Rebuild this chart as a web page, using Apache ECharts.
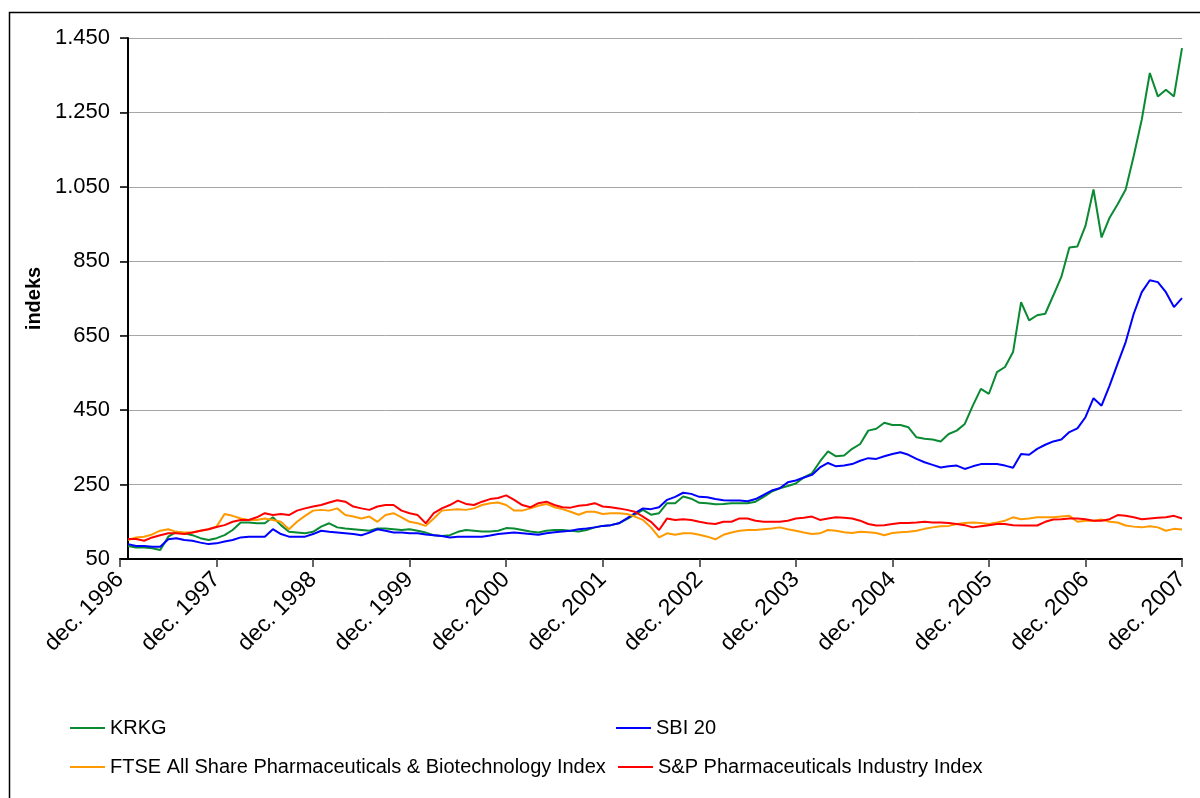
<!DOCTYPE html>
<html>
<head>
<meta charset="utf-8">
<script src="https://cdn.jsdelivr.net/npm/echarts@6/dist/echarts.min.js"></script>
<style>
  html, body { margin: 0; padding: 0; background: #fff; }
  #chart { width: 1200px; height: 798px; }
</style>
</head>
<body>
<div id="chart"></div>
<script>
// monthly points, jan 1997 .. dec 2007 (x = months after dec 1996)
var seriesNames = ['KRKG', 'SBI 20', 'FTSE All Share Pharmaceuticals & Biotechnology Index', 'S&P Pharmaceuticals Industry Index'];
var seriesColors = ['#0a8a32', '#0000ff', '#ff9900', '#ff0000'];

var krkg = [
    85, 81, 81, 79, 74, 110, 123, 119, 114, 106, 101, 106, 114, 128, 148, 148, 146, 146, 162, 141, 123, 121,
    119, 123, 137, 146, 135, 132, 130, 128, 126, 132, 132, 130, 128, 130, 126, 121, 114, 112, 114, 123, 128, 126,
    124, 124, 126, 133, 132, 128, 124, 121, 126, 128, 128, 126, 124, 128, 135, 139, 141, 146, 157, 169, 182, 169,
    173, 200, 200, 218, 212, 201, 200, 197, 198, 200, 200, 200, 204, 217, 231, 240, 246, 253, 269, 280, 312, 339,
    326, 328, 346, 359, 395, 400, 416, 410, 410, 404, 377, 373, 371, 366, 386, 395, 413, 462, 507, 494, 552, 566,
    606, 740, 691, 705, 709, 758, 808, 887, 890, 945, 1043, 914, 967, 1003, 1043, 1133, 1231, 1356, 1293, 1311, 1293, 1423
];
var sbi20 = [
    90, 85, 85, 83, 83, 103, 106, 101, 99, 94, 90, 92, 97, 101, 108, 110, 110, 110, 130, 117, 110, 110,
    110, 117, 126, 123, 121, 119, 117, 114, 121, 130, 126, 121, 121, 119, 119, 116, 114, 112, 108, 110, 110, 110,
    110, 113, 117, 119, 121, 119, 117, 115, 119, 122, 124, 126, 130, 132, 135, 139, 141, 146, 159, 173, 186, 184,
    189, 209, 217, 228, 225, 217, 216, 211, 208, 207, 207, 205, 211, 222, 234, 240, 256, 261, 269, 276, 296, 308,
    299, 301, 305, 314, 321, 319, 326, 332, 337, 330, 319, 310, 303, 296, 299, 301, 292, 299, 305, 305, 305, 301,
    295, 332, 330, 346, 357, 366, 371, 391, 401, 431, 482, 462, 516, 575, 633, 709, 767, 799, 794, 767, 727, 751
];
var ftse = [
    101, 108, 110, 116, 126, 130, 123, 121, 121, 126, 130, 137, 171, 166, 159, 155, 155, 159, 155, 150, 130, 150,
    166, 180, 182, 180, 186, 168, 164, 159, 164, 150, 168, 173, 162, 150, 146, 139, 159, 180, 182, 184, 182, 186,
    195, 200, 202, 195, 180, 180, 186, 193, 198, 189, 184, 177, 169, 177, 177, 171, 173, 173, 171, 164, 155, 135,
    108, 119, 115, 119, 119, 115, 110, 103, 115, 121, 126, 128, 128, 130, 132, 135, 130, 126, 121, 117, 119, 128,
    126, 122, 120, 123, 122, 120, 114, 120, 122, 123, 126, 131, 135, 138, 139, 144, 147, 148, 147, 144, 148, 153,
    162, 157, 159, 162, 162, 162, 164, 166, 150, 153, 153, 156, 150, 148, 140, 137, 135, 138, 135, 126, 131, 129
];
var spPharma = [
    104, 104, 99, 108, 114, 119, 119, 117, 121, 126, 130, 136, 141, 150, 155, 155, 162, 173, 168, 171, 168, 180,
    186, 191, 195, 202, 208, 204, 191, 186, 182, 191, 195, 195, 180, 173, 168, 146, 173, 186, 195, 207, 198, 195,
    204, 211, 214, 221, 209, 195, 189, 200, 204, 195, 189, 188, 193, 195, 200, 191, 189, 186, 182, 177, 164, 150,
    128, 159, 155, 157, 155, 150, 146, 144, 150, 150, 159, 159, 153, 150, 150, 150, 153, 159, 161, 164, 155, 159,
    162, 161, 159, 153, 144, 140, 141, 144, 147, 147, 148, 150, 148, 148, 147, 144, 141, 135, 138, 141, 144, 144,
    141, 140, 140, 140, 150, 156, 157, 159, 159, 157, 153, 153, 157, 168, 166, 162, 157, 159, 161, 162, 166, 159
];
var yTicks = [50, 250, 450, 650, 850, 1050, 1250, 1450];

var fontFamily = "'Liberation Sans', Arial, sans-serif";

function toPoints(values) {
    var out = [];
    for (var i = 0; i < values.length; i++) {
        out.push([i + 1, values[i]]);
    }
    return out;
}

function thousands(v) {
    var s = String(v);
    if (s.length > 3) s = s.slice(0, s.length - 3) + '.' + s.slice(-3);
    return s;
}

var allValues = [krkg, sbi20, ftse, spPharma];
var legendPos = [[70, 718], [616, 718], [70, 757], [618, 757]];

var chart = echarts.init(document.getElementById('chart'), null, {renderer: 'canvas'});

var option = {
    animation: false,
    backgroundColor: '#ffffff',
    textStyle: {fontFamily: fontFamily},
    graphic: [{
        type: 'rect',
        shape: {x: 9.5, y: 12.5, width: 1220, height: 820},
        style: {fill: 'none', stroke: '#000', lineWidth: 1.5},
        silent: true
    }],
    grid: {left: 120, right: 18, top: 38, bottom: 239},
    legend: [],
    xAxis: {
        type: 'value',
        min: 0,
        max: 132,
        interval: 12,
        axisLine: {show: true, onZero: false, lineStyle: {color: '#000', width: 2}},
        axisTick: {show: true, length: 8, lineStyle: {color: '#333', width: 1.5}},
        splitLine: {show: false},
        axisLabel: {
            rotate: 45,
            margin: 17,
            color: '#000',
            fontSize: 23,
            fontFamily: fontFamily,
            showMinLabel: true,
            showMaxLabel: true,
            formatter: function (v) {
                return 'dec. ' + (1996 + Math.round(v / 12));
            }
        }
    },
    yAxis: {
        type: 'value',
        min: yTicks[0],
        max: yTicks[yTicks.length - 1],
        interval: 200,
        offset: -8,
        name: 'indeks',
        nameLocation: 'middle',
        nameRotate: 90,
        nameGap: 80,
        nameTextStyle: {color: '#000', fontSize: 20, fontWeight: 'bold', fontFamily: fontFamily},
        axisLine: {show: true, onZero: false, lineStyle: {color: '#000', width: 2}},
        axisTick: {show: true, length: 8, lineStyle: {color: '#000', width: 1.5}},
        splitLine: {show: true, lineStyle: {color: '#a6a6a6', width: 1}},
        axisLabel: {
            margin: 18,
            color: '#000',
            fontSize: 22,
            fontFamily: fontFamily,
            formatter: thousands
        }
    },
    series: []
};

for (var i = 0; i < seriesNames.length; i++) {
    option.series.push({
        name: seriesNames[i],
        type: 'line',
        data: toPoints(allValues[i]),
        showSymbol: false,
        symbol: 'none',
        lineStyle: {color: seriesColors[i], width: 2},
        itemStyle: {color: seriesColors[i]},
        z: 2 + i
    });
    option.legend.push({
        data: [seriesNames[i]],
        left: legendPos[i][0],
        top: legendPos[i][1],
        padding: 0,
        icon: 'rect',
        itemWidth: 35,
        itemHeight: 2,
        itemGap: 0,
        selectedMode: false,
        textStyle: {color: '#000', fontSize: 20, fontFamily: fontFamily}
    });
}

chart.setOption(option);
</script>
</body>
</html>
